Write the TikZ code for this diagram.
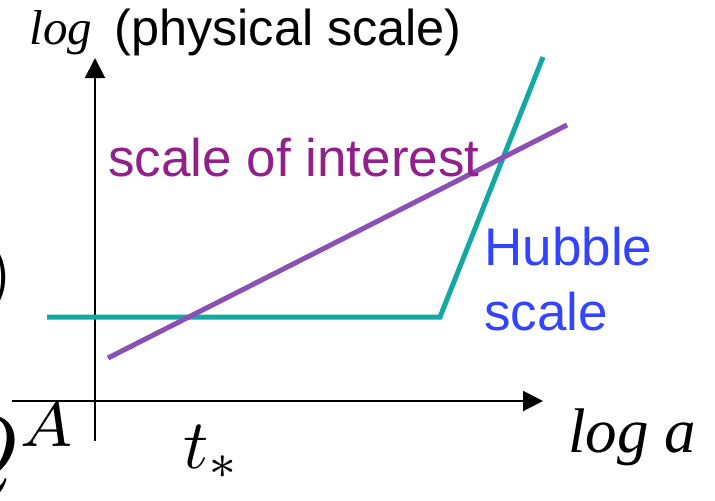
\documentclass[tikz,border=0pt]{standalone}
\usepackage{graphicx}
\usepackage{fontspec}
\setmainfont{Liberation Sans}
\newfontfamily\tnr{Liberation Serif}
\usetikzlibrary{arrows.meta}
\definecolor{hubcol}{RGB}{20,168,165}
\definecolor{intline}{RGB}{140,80,180}
\definecolor{inttext}{RGB}{146,32,140}
\definecolor{hubtext}{RGB}{51,68,255}
\tikzset{
  axis/.style={line width=1pt,-{Triangle[length=10pt,width=10pt]}},
  curve/.style={line width=2.5pt},
  lbl/.style={inner sep=0pt,anchor=base west},
}
\begin{document}
\begin{tikzpicture}[x=0.5pt,y=-0.5pt]
\useasboundingbox (0,0) rectangle (715,500);
% axes
\coordinate (ybot) at (95,441);
\coordinate (ytop) at (95,58);
\coordinate (xleft) at (12,401);
\coordinate (xright) at (543,401);
\draw[axis] (ybot) -- (ytop);
\draw[axis] (xleft) -- (xright);
% Hubble scale
\coordinate (h0) at (47,317);
\coordinate (h1) at (440,317);
\coordinate (h2) at (543,57);
\draw[curve,hubcol,line join=miter] (h0) -- (h1) -- (h2);
% scale of interest
\coordinate (s0) at (108,358);
\coordinate (s1) at (567,125);
\draw[curve,intline] (s0) -- (s1);
% labels
\node[lbl] (ylog) at (29,44) {\fontsize{24.5}{28}\selectfont\tnr\itshape log};
\node[lbl] (ytxt) at (114,45) {\fontsize{25.2}{30}\selectfont (physical scale)};
\node[lbl,text=inttext] (itxt) at (108,176) {\fontsize{26.5}{30}\selectfont scale of interest};
\node[lbl,text=hubtext] (htxt1) at (484,265) {\fontsize{26.5}{30}\selectfont Hubble};
\node[lbl,text=hubtext] (htxt2) at (484,330) {\fontsize{26.5}{30}\selectfont scale};
\node[lbl] (xlog) at (568,452) {\fontsize{31.5}{36}\selectfont\tnr\itshape log a};
\node[lbl] (tstar) at (183,468) {\scalebox{3.5}{\fontsize{10}{12}\selectfont $t_*$}};
\node[inner sep=0pt,anchor=east] (paren) at (13,278) {\scalebox{3.5}{\fontsize{10}{12}\selectfont $)$}};
\node[lbl] (qa) at (-52,479) {\scalebox{4.5}{\fontsize{10}{12}\selectfont $Q^A$}};
\end{tikzpicture}
\end{document}
